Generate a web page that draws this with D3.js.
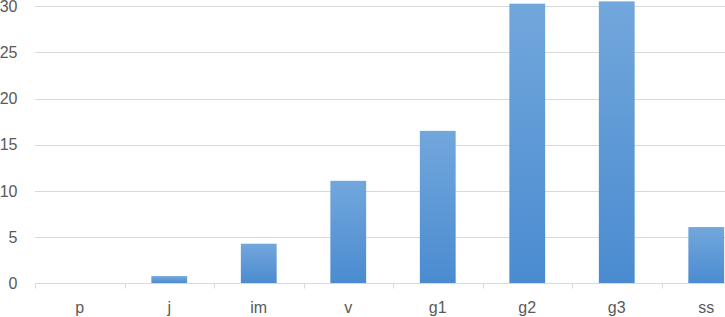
<!DOCTYPE html>
<html>
<head>
<meta charset="utf-8">
<script src="https://cdn.jsdelivr.net/npm/d3@7/dist/d3.min.js"></script>
<style>
html,body{margin:0;padding:0;background:#fff;overflow:hidden;}
svg{display:block;}
text{font-family:"Liberation Sans","DejaVu Sans",sans-serif;fill:#595959;}
</style>
</head>
<body>
<svg id="chart" width="725" height="317"></svg>
<script>
const categories = ["p", "j", "im", "v", "g1", "g2", "g3", "ss"];
const values = [0, 0.8, 4.3, 11.1, 16.5, 30.25, 30.5, 6.1];
const yTicks = [0, 5, 10, 15, 20, 25, 30];

const svg = d3.select("#chart");
const W = 725, H = 317;
const x0 = 35, step = 89.5;
const FS = 16;
const x = d3.scaleBand().domain(categories)
  .range([x0, x0 + step * categories.length])
  .paddingInner(0.6).paddingOuter(0.3);
const y = d3.scaleLinear().domain([0, 30]).range([283.5, 6]);

const defs = svg.append("defs");
const grad = defs.append("linearGradient").attr("id", "barGrad")
  .attr("x1", 0).attr("y1", 0).attr("x2", 0).attr("y2", 1);
grad.append("stop").attr("offset", "0%").attr("stop-color", "#72a7dc");
grad.append("stop").attr("offset", "100%").attr("stop-color", "#4a8bd0");

// gridlines
svg.append("g").selectAll("line").data(yTicks.filter(d => d > 0)).join("line")
  .attr("x1", x0).attr("x2", W)
  .attr("y1", d => Math.round(y(d)) + 0.5).attr("y2", d => Math.round(y(d)) + 0.5)
  .attr("stroke", "#d9d9d9").attr("stroke-width", 1);

// y axis labels
const yAxis = d3.axisLeft(y).tickValues(yTicks).tickSize(0).tickPadding(0);
const gy = svg.append("g").attr("transform", "translate(17.5,0)").call(yAxis);
gy.select(".domain").remove();
gy.selectAll("text").attr("font-size", FS).style("fill", "#595959")
  .style("font-family", "Liberation Sans, DejaVu Sans, sans-serif");

// bars
svg.append("g").selectAll("rect").data(categories.map((c, i) => ({c, v: values[i]}))).join("rect")
  .attr("x", d => x(d.c)).attr("width", x.bandwidth())
  .attr("y", d => y(d.v)).attr("height", d => y(0) - y(d.v))
  .attr("fill", "url(#barGrad)");

// x axis
const xAxis = d3.axisBottom(x).tickSize(0).tickPadding(18);
const gx = svg.append("g").attr("transform", `translate(0,${y(0)})`).call(xAxis);
gx.select(".domain").remove();
gx.selectAll("text").attr("font-size", FS).style("fill", "#595959")
  .style("font-family", "Liberation Sans, DejaVu Sans, sans-serif");
svg.append("line").attr("x1", x0).attr("x2", W).attr("y1", y(0)).attr("y2", y(0))
  .attr("stroke", "#d9d9d9").attr("stroke-width", 1);
// tick marks at band boundaries
const bounds = d3.range(categories.length + 1).map(i => x0 + i * step);
svg.append("g").selectAll("line").data(bounds).join("line")
  .attr("x1", d => Math.round(d) + 0.5).attr("x2", d => Math.round(d) + 0.5)
  .attr("y1", y(0)).attr("y2", y(0) + 5)
  .attr("stroke", "#d9d9d9").attr("stroke-width", 1);
</script>
</body>
</html>
